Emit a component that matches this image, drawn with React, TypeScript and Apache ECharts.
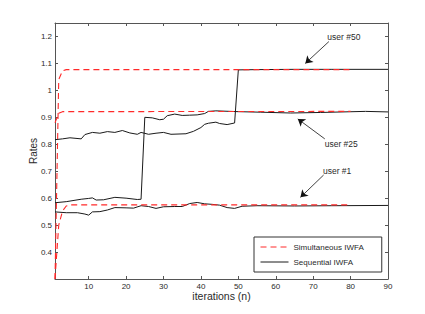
import React, { useEffect, useRef } from "react";
import * as echarts from "echarts";

// ---- Data ----
const xTicks = [10, 20, 30, 40, 50, 60, 70, 80, 90];
const yTicks = [0.4, 0.5, 0.6, 0.7, 0.8, 0.9, 1, 1.1, 1.2];

// Sequential IWFA (black solid)
const seq1X = [1, 4, 7, 9, 10, 11, 13, 15, 17, 20, 22, 24, 26, 28, 30, 33, 35, 37, 39, 41, 43, 45, 47, 49, 51, 55, 65, 75, 90];
const seq1Y = [0.549, 0.546, 0.546, 0.541, 0.537, 0.549, 0.55, 0.556, 0.565, 0.564, 0.563, 0.572, 0.569, 0.562, 0.568, 0.569, 0.569, 0.58, 0.584, 0.579, 0.577, 0.574, 0.565, 0.562, 0.57, 0.572, 0.571, 0.572, 0.573];

const seq25X = [1, 4, 8, 10, 11, 12, 14, 17, 20, 23, 24, 25, 27, 29, 30, 31, 33, 35, 37, 39, 41, 42, 44, 50, 56, 64, 72, 84, 90];
const seq25Y = [0.583, 0.587, 0.596, 0.599, 0.601, 0.593, 0.594, 0.603, 0.6, 0.595, 0.596, 0.9, 0.898, 0.891, 0.893, 0.906, 0.912, 0.907, 0.908, 0.909, 0.914, 0.922, 0.924, 0.921, 0.919, 0.916, 0.918, 0.922, 0.92];

const seq50X = [1, 3, 5, 8, 9, 11, 13, 15, 17, 19, 21, 23, 24, 26, 28, 30, 32, 36, 38, 40, 41, 42, 44, 45, 47, 49, 50, 55, 65, 75, 90];
const seq50Y = [0.817, 0.82, 0.824, 0.82, 0.836, 0.844, 0.841, 0.847, 0.844, 0.851, 0.842, 0.837, 0.844, 0.837, 0.841, 0.844, 0.837, 0.839, 0.848, 0.862, 0.874, 0.878, 0.882, 0.877, 0.873, 0.879, 1.076, 1.077, 1.078, 1.078, 1.078];

// Simultaneous IWFA (red dashed)
const sim1X = [1, 2, 3, 4, 5, 80];
const sim1Y = [0.3, 0.5, 0.552, 0.571, 0.575, 0.575];
const sim25X = [1, 2, 3, 80];
const sim25Y = [0.88, 0.915, 0.921, 0.922];
const sim50X = [1, 2, 3, 4, 80];
const sim50Y = [0.3, 1.04, 1.072, 1.077, 1.077];

// Annotations (data coordinates)
const annotLabels = ["user #50", "user #25", "user #1"];
const annotTextX = [78.2, 77.5, 76.4];
const annotTextY = [1.199, 0.801, 0.701];
const arrowFromX = [74.2, 73.1, 72.8];
const arrowFromY = [1.181, 0.82, 0.686];
const arrowToX = [67.9, 65.9, 66.6];
const arrowToY = [1.1, 0.894, 0.603];

const SIM = "Simultaneous IWFA";
const SEQ = "Sequential IWFA";
const FONT = "'Liberation Sans', Arial, Helvetica, sans-serif";

const zip = (xs: number[], ys: number[]) => xs.map((x, i) => [x, ys[i]]);

export default function App() {
  const ref = useRef<HTMLDivElement>(null);
  useEffect(() => {
    if (!ref.current) return;
    const chart = echarts.init(ref.current, undefined, { renderer: "svg" });
    const axisColor = "#555";
    const textColor = "#2a2a2a";

    const seqStyle = { color: "#1a1a1a", width: 1, type: "solid" as const };
    const simStyle = { color: "#ff2a2a", width: 1.1, type: [6, 4] as any };

    const mkSeries = (name: string, data: number[][], style: any, extra: any = {}) => ({
      type: "line",
      name,
      data,
      symbol: "none",
      showSymbol: false,
      lineStyle: style,
      itemStyle: { color: style.color },
      xAxisIndex: 0,
      yAxisIndex: 0,
      silent: true,
      ...extra,
    });

    const annot = {
      markLine: {
        silent: true,
        symbol: ["none", "arrow"],
        symbolSize: 7,
        lineStyle: { color: "#111", width: 0.8, type: "solid" },
        label: { show: false },
        data: annotLabels.map((_, i) => [
          { coord: [arrowFromX[i], arrowFromY[i]] },
          { coord: [arrowToX[i], arrowToY[i]] },
        ]),
      },
      markPoint: {
        silent: true,
        symbol: "circle",
        symbolSize: 0,
        label: {
          show: true,
          position: "inside",
          formatter: (p: any) => p.name,
          fontFamily: FONT,
          fontSize: 8.5,
          color: textColor,
        },
        data: annotLabels.map((n, i) => ({ name: n, coord: [annotTextX[i], annotTextY[i]] })),
      },
    };

    const option: any = {
      animation: false,
      textStyle: { fontFamily: FONT },
      grid: { left: 55, right: 37, top: 23, bottom: 35, containLabel: false },
      legend: {
        data: [SIM, SEQ],
        orient: "vertical",
        left: 254,
        top: 237,
        padding: [5, 18, 5, 6],
        itemWidth: 28,
        itemHeight: 8,
        itemGap: 5,
        borderColor: "#333",
        borderWidth: 1,
        backgroundColor: "#fff",
        selectedMode: false,
        itemStyle: { opacity: 0 },
        lineStyle: { width: 1 },
        textStyle: { fontFamily: FONT, fontSize: 8, color: textColor, lineHeight: 10 },
      },
      xAxis: [
        {
          type: "value",
          min: 1,
          max: 90,
          position: "bottom",
          axisLine: { show: true, onZero: false, lineStyle: { color: axisColor, width: 1 } },
          axisTick: { show: true, inside: true, length: 3, customValues: xTicks, lineStyle: { color: axisColor } },
          axisLabel: { show: true, customValues: xTicks, fontSize: 8, color: textColor, margin: 3, fontFamily: FONT },
          splitLine: { show: false },
          name: "iterations (n)",
          nameLocation: "middle",
          nameGap: 11,
          nameMoveOverlap: false,
          nameTextStyle: { fontSize: 10.5, color: textColor, fontFamily: FONT },
        },
        {
          type: "value",
          min: 1,
          max: 90,
          position: "top",
          axisLine: { show: true, onZero: false, lineStyle: { color: axisColor, width: 1 } },
          axisTick: { show: true, inside: true, length: 3, customValues: xTicks, lineStyle: { color: axisColor } },
          axisLabel: { show: false },
          splitLine: { show: false },
        },
      ],
      yAxis: [
        {
          type: "value",
          min: 0.3,
          max: 1.25,
          position: "left",
          axisLine: { show: true, onZero: false, lineStyle: { color: axisColor, width: 1 } },
          axisTick: { show: true, inside: true, length: 3, customValues: yTicks, lineStyle: { color: axisColor } },
          axisLabel: {
            show: true,
            customValues: yTicks,
            fontSize: 8,
            color: textColor,
            margin: 3,
            fontFamily: FONT,
            formatter: (v: number) => String(Math.round(v * 10) / 10),
          },
          splitLine: { show: false },
          name: "Rates",
          nameLocation: "middle",
          nameGap: 17,
          nameMoveOverlap: false,
          nameTextStyle: { fontSize: 10, color: textColor, fontFamily: FONT },
        },
        {
          type: "value",
          min: 0.3,
          max: 1.25,
          position: "right",
          axisLine: { show: true, onZero: false, lineStyle: { color: axisColor, width: 1 } },
          axisTick: { show: true, inside: true, length: 3, customValues: yTicks, lineStyle: { color: axisColor } },
          axisLabel: { show: false },
          splitLine: { show: false },
        },
      ],
      series: [
        mkSeries(SEQ, zip(seq1X, seq1Y), seqStyle),
        mkSeries(SEQ, zip(seq25X, seq25Y), seqStyle),
        mkSeries(SEQ, zip(seq50X, seq50Y), seqStyle, annot),
        mkSeries(SIM, zip(sim1X, sim1Y), simStyle),
        mkSeries(SIM, zip(sim25X, sim25Y), simStyle),
        mkSeries(SIM, zip(sim50X, sim50Y), simStyle),
      ],
    };
    chart.setOption(option);
    return () => chart.dispose();
  }, []);
  return (
    <div
      ref={ref}
      style={{ position: "fixed", left: 0, top: 0, width: 425, height: 314, background: "#fff" }}
    />
  );
}
